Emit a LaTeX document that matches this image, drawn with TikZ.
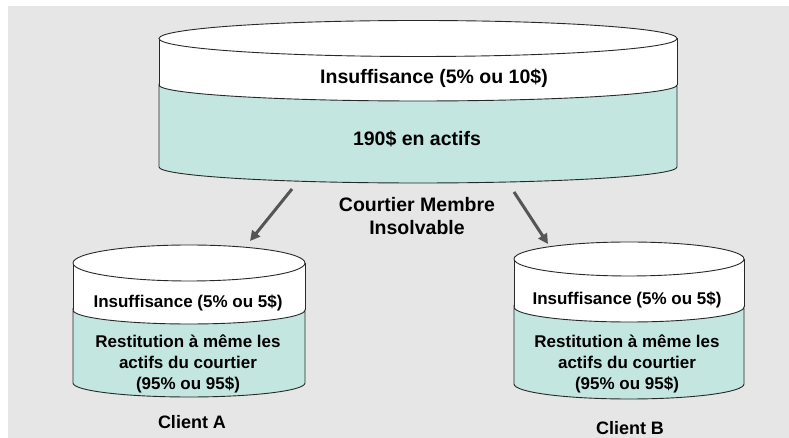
\documentclass[tikz,border=0pt]{standalone}
\usepackage{fontspec}
\setmainfont{Liberation Sans}
\usetikzlibrary{arrows.meta}
\definecolor{fond}{RGB}{230,230,230}
\definecolor{actifs}{RGB}{195,230,224}
\definecolor{contour}{RGB}{40,40,40}
\definecolor{fleche}{RGB}{85,85,85}
% baril : centre x, demi-largeur, haut, separation, bas, rayon haut, rayon corps
\newcommand{\baril}[7]{%
	\fill[white] ({#1-#2},#3) -- ({#1-#2},#4) arc[start angle=180, end angle=360, x radius=#2, y radius=#7] -- ({#1+#2},#3) -- cycle;
	\filldraw[fill=actifs, draw=contour, line width=0.9pt] ({#1-#2},#4) -- ({#1-#2},#5) arc[start angle=180, end angle=360, x radius=#2, y radius=#7] -- ({#1+#2},#4) arc[start angle=0, end angle=-180, x radius=#2, y radius=#7] -- cycle;
	\draw[contour, line width=0.9pt] ({#1-#2},#3) -- ({#1-#2},#4) ({#1+#2},#3) -- ({#1+#2},#4);
	\filldraw[fill=white, draw=contour, line width=0.9pt] (#1,#3) ellipse[x radius=#2, y radius=#6];
}

\begin{document}
\begin{tikzpicture}[x=1pt, y=1pt,
		grand/.style={font=\bfseries\fontsize{19.5}{23}\selectfont, align=center, inner sep=0pt},
		petit/.style={font=\bfseries\fontsize{17}{21}\selectfont, align=center, inner sep=0pt},
		client/.style={font=\bfseries\fontsize{18}{21}\selectfont, inner sep=0pt},
		transfert/.style={line width=3pt, color=fleche, -{Triangle[length=10pt, width=10pt]}}]
		%%%%% FOND %%%%%
		\useasboundingbox (0, 0) rectangle (789, 438);
		\fill[fond] (8, 0) rectangle (789, 432);
		
		%%%%% COURTIER %%%%%
		\baril{418}{259}{399.5}{353}{271}{18}{16}
		\node[grand] (insufC) at (434, 360) {Insuffisance (5\% ou 10\$)};
		\node[grand] (actifsC) at (417, 299) {190\$ en actifs};
		\node[grand] (courtier) at (417, 221.5) {Courtier Membre\\Insolvable};
		
		%%%%% CLIENT A %%%%%
		\baril{189}{116}{175}{128}{55}{18}{14}
		\node[petit] (insufA) at (188, 135) {Insuffisance (5\% ou 5\$)};
		\node[petit] (restA) at (188, 74) {Restitution à même les\\actifs du courtier\\(95\% ou 95\$)};
		\node[client] (clientA) at (192, 16) {Client A};
		
		%%%%% CLIENT B %%%%%
		\baril{629}{115}{179}{131}{54}{17}{15}
		\node[petit] (insufB) at (627, 138) {Insuffisance (5\% ou 5\$)};
		\node[petit] (restB) at (627, 74) {Restitution à même les\\actifs du courtier\\(95\% ou 95\$)};
		\node[client] (clientB) at (630, 10) {Client B};
		
		%%%%% FLECHES %%%%%
		\coordinate (departA) at (292, 249);
		\coordinate (arriveeA) at (250, 197);
		\coordinate (departB) at (514, 246);
		\coordinate (arriveeB) at (548, 194);
		\draw[transfert] (departA) -- (arriveeA);
		\draw[transfert] (departB) -- (arriveeB);
\end{tikzpicture}
\end{document}
